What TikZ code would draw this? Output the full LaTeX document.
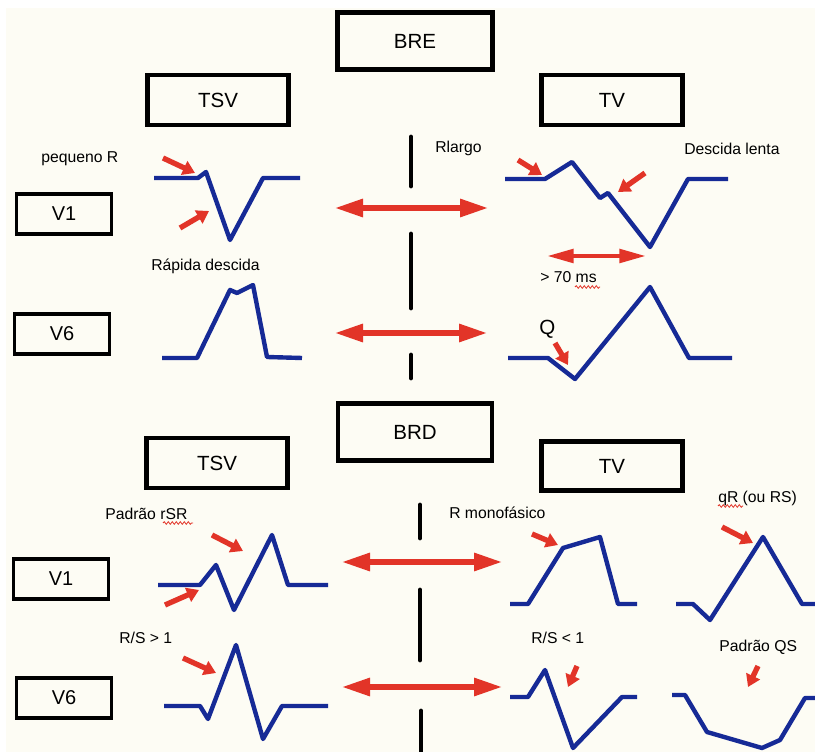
\documentclass[tikz,border=0pt]{standalone}
\usepackage{fontspec}
\setmainfont{Liberation Sans}
\usetikzlibrary{arrows.meta,decorations.pathmorphing}
\definecolor{ecgblue}{RGB}{22,42,150}
\definecolor{markred}{RGB}{226,52,40}
\definecolor{paper}{RGB}{253,252,244}

\begin{document}
\begin{tikzpicture}[x=0.75pt, y=-0.75pt,
    bigbox/.style={draw, line width=3.6pt, minimum width=106pt, minimum height=37.5pt,
        font=\fontsize{15.4}{18}\selectfont},
    leadbox/.style={draw, line width=2.6pt, minimum width=71pt, minimum height=30pt,
        font=\fontsize{15}{18}\selectfont},
    note/.style={anchor=base west, inner sep=0pt, font=\fontsize{11.8}{14}\selectfont},
    wave/.style={ecgblue, line width=3.3pt, line join=round},
    pointer/.style={markred, line width=4pt, -{Triangle[length=9pt,width=11pt]}},
    compare/.style={markred, line width=3.8pt,
        {Triangle[length=21pt,width=13pt]}-{Triangle[length=21pt,width=13pt]}},
    divider/.style={line width=3.6pt, line cap=round},
    typo/.style={markred, line width=0.6pt, decorate,
        decoration={snake, amplitude=1pt, segment length=3pt}}]
    \useasboundingbox (0,0) rectangle (815,752);
    \fill [white] (0,0) rectangle (815,752);
    \fill [paper] (6,8) rectangle (815,752);

    % BRE
    \node [bigbox, minimum width=116pt, minimum height=42.75pt] (bre) at (415,41) {BRE};
    \node [bigbox] (tsv1) at (218,100) {TSV};
    \node [bigbox] (tv1) at (612,100) {TV};
    \node [leadbox] (v1a) at (64,214) {V1};
    \node [leadbox] (v6a) at (62,334) {V6};

    \draw [divider] (411,137) -- (411,186);
    \draw [divider] (411,234) -- (411,308);
    \draw [divider] (411,355) -- (411,378);
    \draw [compare] (335,208) -- (488,208);
    \draw [compare] (335,333) -- (487,333);

    \node [note] (smallr) at (41,163) {pequeno R};
    \node [note] (fastdown) at (151,271) {Rápida descida};
    \node [note] (longr) at (435,153) {Rlargo};
    \node [note] (slowdown) at (684,155) {Descida lenta};
    \node [note] (wide) at (540,283) {> 70 ms};
    \node [note, font=\fontsize{15.4}{18}\selectfont] (qwave) at (539,335) {Q};
    \draw [typo] (575,287) -- (600,287);

    \draw [wave] (154,178) -- (198,178) -- (206,172) -- (230,240) -- (263,178) -- (300,178);
    \draw [pointer] (163,158) -- (195,173);
    \draw [pointer] (180,228) -- (209,211);
    \draw [wave] (162,358) -- (197,358) -- (230,290) -- (237,293) -- (253,285) -- (267,357) -- (302,358);

    \draw [wave] (505,179) -- (545,179) -- (572,162) -- (600,198) -- (608,193) -- (650,247) -- (688,179) -- (728,179);
    \draw [pointer] (518,160) -- (542,175);
    \draw [pointer] (645,173) -- (618,192);
    \draw [markred, line width=3.3pt, {Triangle[length=20pt,width=10pt]}-{Triangle[length=20pt,width=10pt]}]
        (547,256) -- (646,256);
    \draw [wave] (508,358) -- (548,358) -- (575,379) -- (650,287) -- (689,358) -- (732,358);
    \draw [pointer] (555,343) -- (568,365);

    % BRD
    \node [bigbox, minimum width=115.5pt, minimum height=42.75pt] (brd) at (415,432) {BRD};
    \node [bigbox] (tsv2) at (217,463) {TSV};
    \node [bigbox, minimum height=36.75pt] (tv2) at (612,466) {TV};
    \node [leadbox] (v1b) at (61,579) {V1};
    \node [leadbox] (v6b) at (64,698) {V6};

    \draw [divider] (420,505) -- (420,538);
    \draw [divider] (420,590) -- (420,660);
    \draw [divider] (421,711) -- (421,760);
    \draw [compare] (342,562) -- (502,562);
    \draw [compare] (342,687) -- (502,687);

    \node [note] (rsr) at (105,520) {Padrão rSR};
    \node [note] (rsbig) at (119,643) {R/S > 1};
    \node [note] (mono) at (449,519) {R monofásico};
    \node [note] (qr) at (718,503) {qR (ou RS)};
    \node [note] (rssmall) at (531,643) {R/S < 1};
    \node [note] (qs) at (719,651) {Padrão QS};
    \draw [typo] (163,523) -- (193,523);
    \draw [typo] (718,506) -- (743,506);

    \draw [wave] (158,585) -- (200,585) -- (216,565) -- (234,610) -- (272,535) -- (288,585) -- (328,585);
    \draw [pointer] (212,535) -- (243,551);
    \draw [pointer] (165,605) -- (199,590);
    \draw [wave] (164,706) -- (200,706) -- (208,719) -- (236,645) -- (263,739) -- (282,706) -- (328,706);
    \draw [pointer] (183,658) -- (216,673);

    \draw [wave] (510,604) -- (528,604) -- (563,548) -- (600,537) -- (618,604) -- (637,604);
    \draw [pointer] (532,534) -- (558,545);
    \draw [wave] (676,604) -- (693,604) -- (710,620) -- (763,537) -- (802,604) -- (820,604);
    \draw [pointer] (722,527) -- (753,543);
    \draw [wave] (510,697) -- (528,697) -- (545,670) -- (573,748) -- (622,697) -- (637,697);
    \draw [pointer] (577,666) -- (568,687);
    \draw [wave] (672,695) -- (685,695) -- (707,732) -- (762,748) -- (780,740) -- (805,698) -- (820,698);
    \draw [pointer] (758,666) -- (748,687);
\end{tikzpicture}
\end{document}
